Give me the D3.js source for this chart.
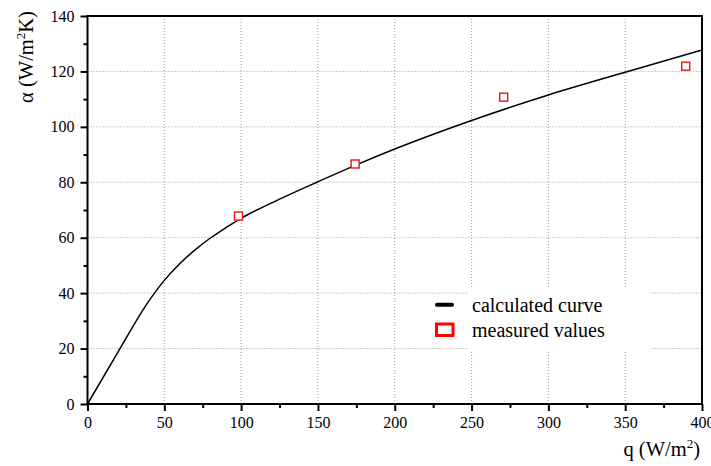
<!DOCTYPE html>
<html><head><meta charset="utf-8">
<script src="https://cdn.jsdelivr.net/npm/d3@7"></script>
<style>body{margin:0;background:#fff}svg{display:block}</style>
</head><body>
<svg id="c" width="711" height="466"></svg>
<script>
const curveQ = [0, 20, 40, 50, 60, 70, 80, 90, 100, 125, 150, 175, 200, 250, 300, 350, 400];
const curveA = [0, 18.9, 37.2, 44.6, 50.6, 55.6, 59.9, 63.6, 67.0, 73.9, 80.2, 86.3, 92.0, 102.3, 111.5, 119.7, 127.7];
const measQ = [98.3, 174.2, 270.9, 389.4];
const measA = [67.8, 86.6, 110.7, 121.9];
const xTicks = [0, 50, 100, 150, 200, 250, 300, 350, 400];
const yTicks = [0, 20, 40, 60, 80, 100, 120, 140];
const legendLabels = ["calculated curve", "measured values"];

const FF = '"Liberation Serif"';
const svg = d3.select("#c");
const L = 87.5, R = 702, T = 16, B = 404;
const x = d3.scaleLinear().domain([0, 400]).range([L, R]);
const y = d3.scaleLinear().domain([0, 140]).range([B, T]);

// grid
const g = svg.append("g").attr("stroke", "#9a9a9a").attr("stroke-width", 1).attr("stroke-dasharray", "1,2");
xTicks.filter(d => d > 0 && d < 400).forEach(d => g.append("line").attr("x1", x(d)).attr("x2", x(d)).attr("y1", T).attr("y2", B));
yTicks.filter(d => d > 0 && d < 140).forEach(d => g.append("line").attr("y1", y(d)).attr("y2", y(d)).attr("x1", L).attr("x2", R));

// legend background
svg.append("rect").attr("x", 468).attr("y", 289).attr("width", 182).attr("height", 61).attr("fill", "#fff");

// curve
const pts = curveQ.map((q, i) => [q, curveA[i]]);
svg.append("path").datum(pts).attr("fill", "none").attr("stroke", "#000").attr("stroke-width", 1.5)
  .attr("d", d3.line().x(d => x(d[0])).y(d => y(d[1])).curve(d3.curveMonotoneX));

// markers
svg.selectAll("rect.m").data(measQ.map((q, i) => [q, measA[i]])).enter().append("rect")
  .attr("class", "m").attr("x", d => x(d[0]) - 4).attr("y", d => y(d[1]) - 4)
  .attr("width", 8).attr("height", 8).attr("fill", "#fff").attr("stroke", "#e8141a").attr("stroke-width", 1.4);

// axes
const xMinor = d3.range(25, 400, 50);
const yMinor = d3.range(10, 140, 20);
const xa = svg.append("g").attr("transform", `translate(0,${B})`)
  .call(d3.axisBottom(x).tickValues(xTicks).tickSize(7).tickPadding(6).tickFormat(d3.format("d")));
const xm = svg.append("g").attr("transform", `translate(0,${B})`)
  .call(d3.axisBottom(x).tickValues(xMinor).tickSize(4).tickFormat(""));
const ya = svg.append("g").attr("transform", `translate(${L},0)`)
  .call(d3.axisLeft(y).tickValues(yTicks).tickSize(7).tickPadding(6).tickFormat(d3.format("d")));
const ym = svg.append("g").attr("transform", `translate(${L},0)`)
  .call(d3.axisLeft(y).tickValues(yMinor).tickSize(4).tickFormat(""));
[xa, xm, ya, ym].forEach(a => {
  a.select(".domain").remove();
  a.selectAll("line").attr("stroke", "#000").attr("stroke-width", 2);
  a.selectAll("text").style("font-family", FF).attr("font-size", 16).attr("fill", "#000");
});
// frame
svg.append("path").attr("fill", "none").attr("stroke", "#000").attr("stroke-width", 2)
  .attr("d", `M${L},${T}H${R}V${B}H${L}Z`);

// axis titles
const yt = svg.append("text").attr("transform", "translate(33,57) rotate(-90)").attr("text-anchor", "middle")
  .style("font-family", FF).attr("font-size", 20.5);
yt.append("tspan").text("α (W/m");
yt.append("tspan").attr("font-size", 13).attr("dy", -8).text("2");
yt.append("tspan").attr("dy", 8).text("K)");

const xt = svg.append("text").attr("x", 700).attr("y", 456).attr("text-anchor", "end")
  .style("font-family", FF).attr("font-size", 20.5);
xt.append("tspan").text("q (W/m");
xt.append("tspan").attr("font-size", 13).attr("dy", -8).text("2");
xt.append("tspan").attr("dy", 8).text(")");

// legend
svg.append("line").attr("x1", 437).attr("x2", 452).attr("y1", 304.7).attr("y2", 304.7)
  .attr("stroke", "#000").attr("stroke-width", 4).attr("stroke-linecap", "round");
svg.append("rect").attr("x", 436.5).attr("y", 324).attr("width", 16.5).attr("height", 11.5)
  .attr("fill", "#fff").attr("stroke", "#f00").attr("stroke-width", 3);
legendLabels.forEach((t, i) => svg.append("text").attr("x", 472).attr("y", 311.5 + i * 25.8)
  .style("font-family", FF).attr("font-size", 20).text(t));
</script>
</body></html>
